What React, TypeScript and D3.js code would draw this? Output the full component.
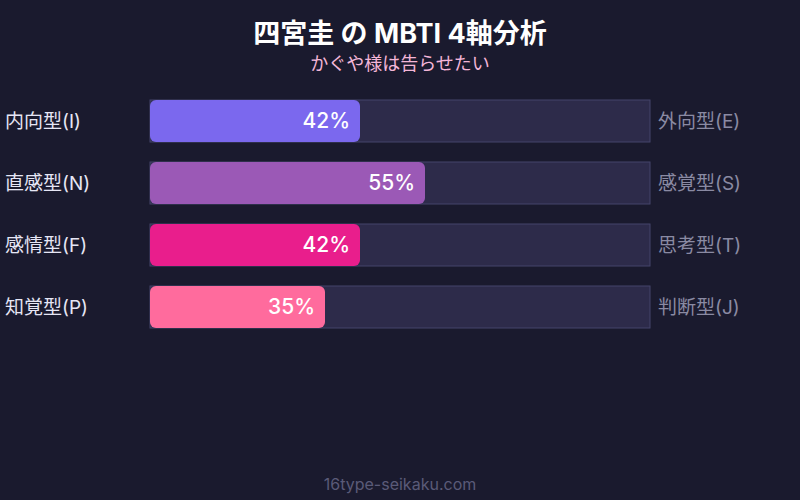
import React from 'react';
import * as d3 from 'd3';

const leftLabels = ['内向型(I)', '直感型(N)', '感情型(F)', '知覚型(P)'];
const rightLabels = ['外向型(E)', '感覚型(S)', '思考型(T)', '判断型(J)'];
const values = [42, 55, 42, 35];
const barColors = ['#7b68ee', '#9b59b6', '#e91e8c', '#ff6b9d'];

const W = 800;
const H = 500;
const FONT = "Inter, 'Noto Sans CJK JP', sans-serif";

export default function App() {
    const x = d3.scaleLinear().domain([0, 100]).range([150, 650]);
    // rows: 42px bars on a 62px step
    const y = d3.scaleBand<number>()
        .domain(d3.range(values.length))
        .range([100, 100 + 62 * values.length - 20])
        .paddingInner(20 / 62)
        .paddingOuter(0);
    const bh = y.bandwidth();

    return (
        <div style={{ position: 'absolute', left: 0, top: 0 }}>
            <svg width={W} height={H} style={{ display: 'block' }} fontFamily={FONT}>
                <rect width={W} height={H} fill="#1a1a2e" />
                <text x={W / 2} y={43} textAnchor="middle" fill="#ffffff" fontSize={27} fontWeight={700}>
                    四宮圭 の MBTI 4軸分析
                </text>
                <text x={W / 2} y={70} textAnchor="middle" fill="#f4b6d8" fontSize={18}>
                    かぐや様は告らせたい
                </text>

                {values.map((v, i) => {
                    const top = y(i) as number;
                    const cy = top + bh / 2;
                    return (
                        <g key={i}>
                            <rect
                                x={x(0)}
                                y={top}
                                width={x(100) - x(0)}
                                height={bh}
                                fill="#2d2b4a"
                                stroke="#44446a"
                                strokeWidth={1}
                            />
                            <rect
                                x={x(0)}
                                y={top}
                                width={x(v) - x(0)}
                                height={bh}
                                rx={6}
                                fill={barColors[i]}
                            />
                            <text
                                x={x(v) - 10}
                                y={cy}
                                dy="0.35em"
                                textAnchor="end"
                                fill="#ffffff"
                                fontSize={21}
                                fontWeight={500}
                            >
                                {v}%
                            </text>
                            <text x={5} y={cy} dy="0.35em" fill="#e6e6f5" fontSize={19}>
                                {leftLabels[i]}
                            </text>
                            <text x={658} y={cy} dy="0.35em" fill="#8a8aa3" fontSize={19}>
                                {rightLabels[i]}
                            </text>
                        </g>
                    );
                })}

                <text x={W / 2} y={490} textAnchor="middle" fill="#5a5a78" fontSize={16}>
                    16type-seikaku.com
                </text>
            </svg>
        </div>
    );
}
